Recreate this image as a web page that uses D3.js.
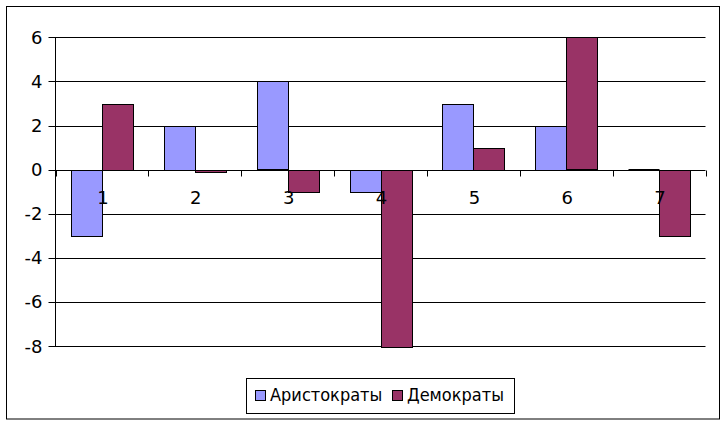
<!DOCTYPE html>
<html><head><meta charset="utf-8">
<script src="https://cdn.jsdelivr.net/npm/d3@7"></script>
<style>body{margin:0;background:#fff}svg{display:block}text{font-family:"DejaVu Sans",Verdana,sans-serif;fill:#000}</style>
</head><body><svg id="c" width="728" height="429"></svg>
<script>
const categories = ["1","2","3","4","5","6","7"];
const seriesNames = ["Аристократы","Демократы"];
const aristocrats = [-3, 2, 4, -1, 3, 2, 0];
const democrats = [3, -0.1, -1, -8, 1, 6, -3];
const yTicks = [6,4,2,0,-2,-4,-6,-8];
const colors = ["#9999FF","#993366"];

const svg = d3.select("#c");
svg.append("rect").attr("x",6.5).attr("y",6.5).attr("width",713).attr("height",412.5)
  .attr("fill","#fff").attr("stroke","#000").attr("stroke-width",1);

const L=55.5, R=705.5, T=37.3, B=346.3;
const y = d3.scaleLinear().domain([-8,6]).range([B,T]);
const x = d3.scaleBand().domain(categories).range([L,R]).paddingInner(0).paddingOuter(0);
const xs = d3.scaleBand().domain(seriesNames).range([0,x.bandwidth()]).paddingInner(0).paddingOuter(0.5);

// gridlines
const g = svg.append("g");
g.selectAll("line.grid").data(yTicks).join("line")
  .attr("x1",L-7).attr("x2",R).attr("y1",d=>Math.round(y(d))+0.5).attr("y2",d=>Math.round(y(d))+0.5)
  .attr("stroke","#000").attr("stroke-width",1);
g.append("line").attr("x1",L).attr("x2",L).attr("y1",Math.round(T)+0.5).attr("y2",Math.round(B)+0.5).attr("stroke","#000");

// y labels
g.selectAll("text.yl").data(yTicks).join("text")
  .attr("x",42.5).attr("y",d=>y(d)).attr("dy","0.35em").attr("text-anchor","end")
  .attr("font-size",18).text(d=>d);

// category ticks at zero line
const y0 = Math.round(y(0))+0.5;
g.selectAll("line.xt").data(categories.concat(["end"])).join("line")
  .attr("x1",(d,i)=>Math.round(L+i*x.bandwidth())+0.5).attr("x2",(d,i)=>Math.round(L+i*x.bandwidth())+0.5)
  .attr("y1",y0).attr("y2",y0+6).attr("stroke","#000");

// bars
const data = [aristocrats, democrats];
data.forEach((vals,si)=>{
  const bg = svg.append("g");
  vals.forEach((d,i)=>{
    const bx = Math.round(x(categories[i])+xs(seriesNames[si]))+0.5;
    const bw = Math.round(xs.bandwidth());
    const h = Math.round(Math.abs(y(d)-y(0)));
    if (h === 0) {
      bg.append("line").attr("x1",bx).attr("x2",bx+bw).attr("y1",y0-1).attr("y2",y0-1)
        .attr("stroke","#000");
    } else {
      bg.append("rect").attr("x",bx).attr("width",bw)
        .attr("y",Math.round(y(Math.max(0,d)))+0.5).attr("height",h)
        .attr("fill",colors[si]).attr("stroke","#000").attr("stroke-width",1);
    }
  });
});

// category labels
svg.append("g").selectAll("text").data(categories).join("text")
  .attr("x",d=>x(d)+x.bandwidth()/2+1).attr("y",204).attr("text-anchor","middle")
  .attr("font-size",18).text(d=>d);

// legend
const lg = svg.append("g");
lg.append("rect").attr("x",246.5).attr("y",378.5).attr("width",268).attr("height",35)
  .attr("fill","#fff").attr("stroke","#000");
const lx = [255, 392];
seriesNames.forEach((n,i)=>{
  lg.append("rect").attr("x",lx[i]+0.5).attr("y",390.5).attr("width",10).attr("height",10)
    .attr("fill",colors[i]).attr("stroke","#000");
  lg.append("text").attr("x",lx[i]+15).attr("y",401).attr("font-size",18)
    .style("font-family","'DejaVu Sans Condensed','DejaVu Sans',sans-serif").text(n);
});
</script></body></html>
